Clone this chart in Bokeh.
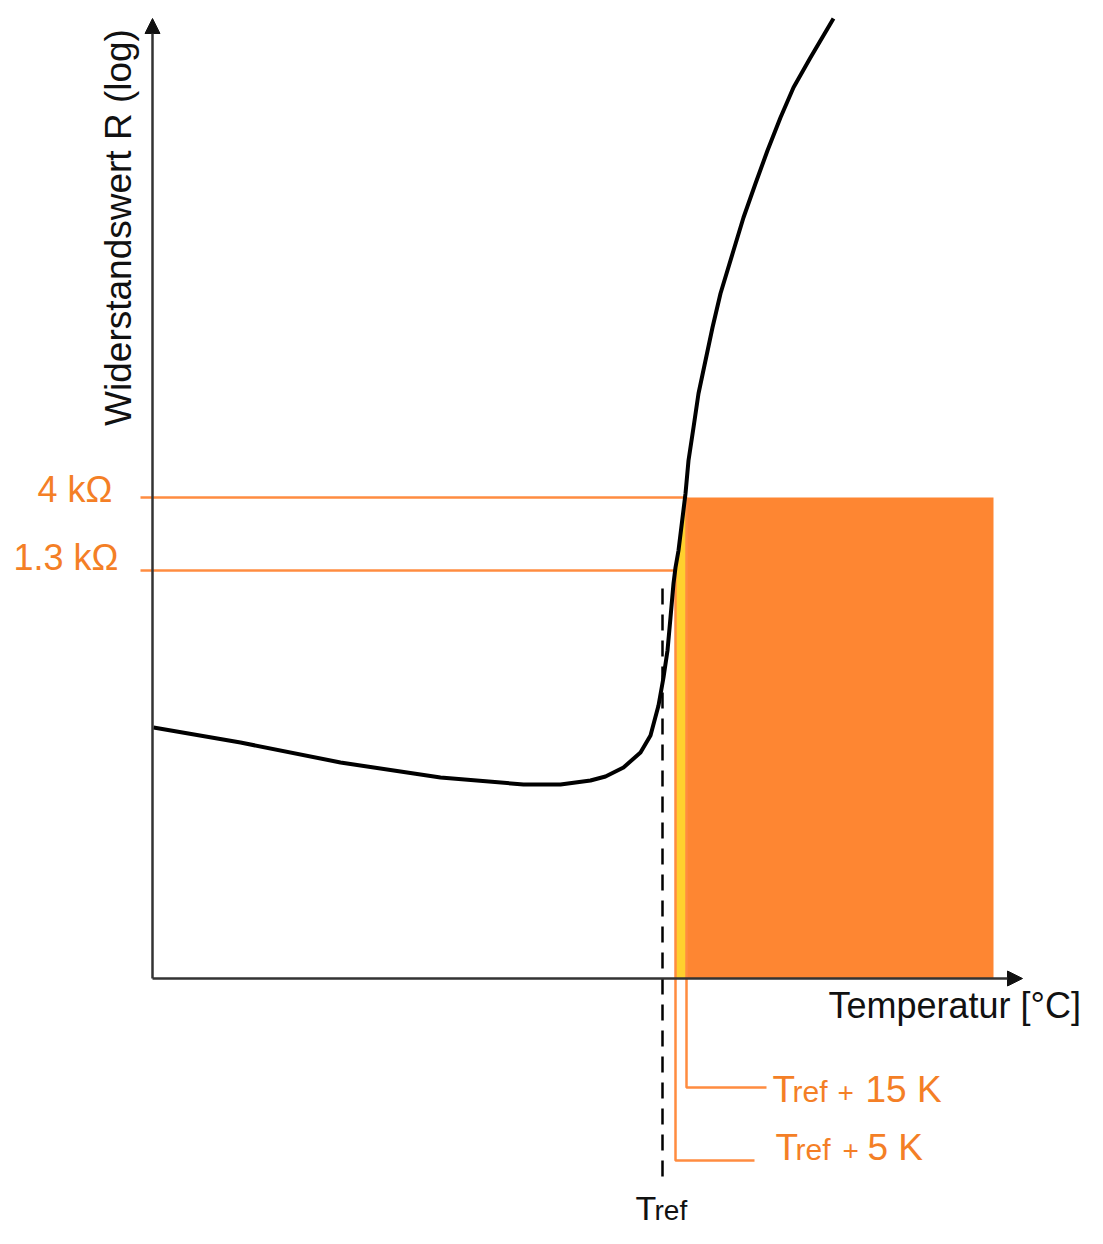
import math
from bokeh.plotting import figure
from bokeh.models import Range1d, Label, Arrow, NormalHead
from bokeh.embed import file_html
from bokeh.resources import INLINE

# ---- data (schematic units: x = temperature, y = log resistance) ----
temp = [1, 88, 188, 288, 371, 408, 438, 453, 471, 488, 498, 506, 511, 515,
        518, 521, 523, 526, 533, 536, 541, 546, 553, 560, 568, 581, 591, 603,
        615, 628, 641, 658, 681]
log_r = [251, 236, 216, 201, 194, 194, 198, 202, 211, 226, 243, 273, 301, 328,
         361, 395, 411, 428, 485, 518, 551, 585, 618, 651, 685, 728, 761, 795,
         828, 861, 891, 921, 960]

T_REF = 510
T_REF_5 = 523
T_REF_15 = 534
T_END = 841
R_1_3K = 408
R_4K = 481
X_AXIS_END = 870
Y_AXIS_END = 960

# ---- layout ----
W, H = 1087, 1228
FONT = "Liberation Sans"
ORANGE_TXT = "#F47F26"
ORANGE_LINE = "#FF8C40"
ORANGE_FILL = "#FE8632"
YELLOW = "#FFD02E"
AXIS = "#333333"

p = figure(width=W, height=H, x_range=Range1d(-152, 935), y_range=Range1d(-250, 978),
           output_backend="svg", toolbar_location=None,
           x_axis_type=None, y_axis_type=None, min_border=0,
           outline_line_color=None, background_fill_color="white",
           border_fill_color="white")
p.xgrid.visible = False
p.ygrid.visible = False

# shaded regions
p.quad(left=[T_REF_15], right=[T_END], bottom=[0], top=[R_4K],
       fill_color=ORANGE_FILL, line_color=None)
p.patch(x=[T_REF_5, T_REF_5, T_REF_15, T_REF_15], y=[0, R_1_3K, R_4K, 0],
        fill_color=YELLOW, line_color=None)

# horizontal resistance markers
p.segment(x0=[-12, -12], y0=[R_4K, R_1_3K], x1=[T_REF_15, T_REF_5], y1=[R_4K, R_1_3K],
          line_color=ORANGE_LINE, line_width=2.5)

# vertical temperature markers with leaders
p.line(x=[T_REF_5, T_REF_5, 602], y=[R_1_3K, -182, -182], line_color=ORANGE_LINE, line_width=2.5)
p.line(x=[T_REF_15, T_REF_15, 614], y=[R_4K, -109, -109], line_color=ORANGE_LINE, line_width=2.5)

# Tref dashed line
p.line(x=[T_REF, T_REF], y=[390, -208], line_color="black", line_width=2.5, line_dash="16 10")

# axes with arrow heads
p.add_layout(Arrow(end=NormalHead(size=15, fill_color="#111111", line_color="#111111"),
                   x_start=0, y_start=0, x_end=X_AXIS_END, y_end=0,
                   line_color=AXIS, line_width=2.5))
p.add_layout(Arrow(end=NormalHead(size=15, fill_color="#111111", line_color="#111111"),
                   x_start=0, y_start=0, x_end=0, y_end=Y_AXIS_END,
                   line_color=AXIS, line_width=2.5))

# curve
p.line(x=temp, y=log_r, line_color="black", line_width=4, line_join="round")


def lab(text, x, y, size, color="#111111", align="left"):
    # y is the desired baseline; compensate for the renderer's baseline offset
    p.add_layout(Label(x=x, y=y + 0.36 * size, text=text, text_font=FONT,
                       text_font_size=f"{size}px", text_color=color,
                       text_align=align, text_baseline="alphabetic"))


p.add_layout(Label(x=-34, y=751, text="Widerstandswert R (log)", text_font=FONT,
                   text_font_size="37px", text_color="#111111", text_align="center",
                   text_baseline="middle", angle=math.pi / 2))
lab("Temperatur [°C]", 676, -40, 36)
lab("4 kΩ", -40, 476, 36, color=ORANGE_TXT, align="right")
lab("1.3 kΩ", -34, 408, 36, color=ORANGE_TXT, align="right")

# Tref + 15 K
lab("T", 620, -124, 37, color=ORANGE_TXT)
lab("ref", 640, -124, 30, color=ORANGE_TXT)
lab("+", 685, -124, 28, color=ORANGE_TXT)
lab("15 K", 713, -124, 37, color=ORANGE_TXT)
# Tref + 5 K
lab("T", 623, -182, 37, color=ORANGE_TXT)
lab("ref", 643, -182, 30, color=ORANGE_TXT)
lab("+", 690, -182, 28, color=ORANGE_TXT)
lab("5 K", 715, -182, 37, color=ORANGE_TXT)
# Tref
lab("T", 483, -242, 34)
lab("ref", 502, -242, 28)

open("out.html", "w").write(file_html(p, INLINE))
